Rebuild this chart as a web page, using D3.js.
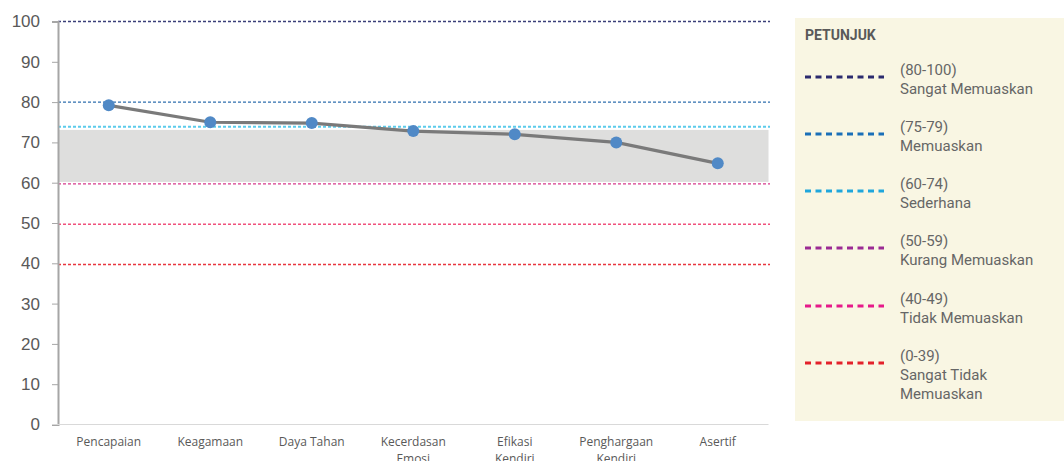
<!DOCTYPE html>
<html>
<head>
<meta charset="utf-8">
<script src="https://cdn.jsdelivr.net/npm/d3@7"></script>
<style>
  body { margin: 0; background: #fff; }
  svg { display: block; }
</style>
</head>
<body>
<div id="chart"></div>
<script>
// data
var categories = ["Pencapaian", "Keagamaan", "Daya Tahan", "Kecerdasan Emosi", "Efikasi Kendiri", "Penghargaan Kendiri", "Asertif"];
var catLines = [["Pencapaian"], ["Keagamaan"], ["Daya Tahan"], ["Kecerdasan", "Emosi"], ["Efikasi", "Kendiri"], ["Penghargaan", "Kendiri"], ["Asertif"]];
var scores = [79.2, 75.0, 74.8, 72.8, 72.0, 70.0, 64.8];
var yTicks = [0, 10, 20, 30, 40, 50, 60, 70, 80, 90, 100];
var bandRange = [60.2, 73.1];
var refValues = [100, 80, 73.9, 59.7, 49.7, 39.7];
var refColors = ["#3a3f78", "#2f6fae", "#5ccbeb", "#d63a8c", "#f0517c", "#e8363f"];
var legendRanges = ["(80-100)", "(75-79)", "(60-74)", "(50-59)", "(40-49)", "(0-39)"];
var legendLabels = [["Sangat Memuaskan"], ["Memuaskan"], ["Sederhana"], ["Kurang Memuaskan"], ["Tidak Memuaskan"], ["Sangat Tidak", "Memuaskan"]];
var legendColors = ["#2b2a6e", "#1a6fb8", "#1fa6dc", "#9b2a93", "#e6198a", "#e3202a"];

var width = 1064, height = 461;
var svg = d3.select("#chart").append("svg")
    .attr("width", width)
    .attr("height", height);

var x = d3.scaleBand().domain(categories).range([58, 768.5]);
var y = d3.scaleLinear().domain([0, 100]).range([424.5, 21.5]);

// grey band
svg.append("rect")
    .attr("x", 59)
    .attr("width", 768.5 - 59)
    .attr("y", y(bandRange[1]))
    .attr("height", y(bandRange[0]) - y(bandRange[1]))
    .attr("fill", "#dededd");

// reference lines
svg.selectAll(".ref")
    .data(refValues)
    .enter().append("line")
    .attr("x1", 58).attr("x2", 770)
    .attr("y1", function (d) { return y(d); })
    .attr("y2", function (d) { return y(d); })
    .attr("stroke", function (d, i) { return refColors[i]; })
    .attr("stroke-width", function (d, i) { return i == 2 ? 2 : 1.4; })
    .attr("stroke-dasharray", "3,2");

// y axis
var yAxis = svg.append("g")
    .attr("transform", "translate(58,0)")
    .call(d3.axisLeft(y).tickValues(yTicks).tickSize(6).tickPadding(12));
yAxis.select(".domain").attr("stroke", "#a6a6a6").attr("stroke-width", 2);
yAxis.selectAll(".tick line").attr("stroke", "#a6a6a6");
yAxis.selectAll("text")
    .attr("fill", "#595959")
    .style("font-family", "'Liberation Sans', sans-serif")
    .style("font-size", "17px");

// x axis
svg.append("line")
    .attr("x1", 52).attr("x2", 768.5)
    .attr("y1", 424.5).attr("y2", 424.5)
    .attr("stroke", "#d9d9d9")
    .attr("stroke-width", 1.2);

var xLabels = svg.append("g").selectAll("text")
    .data(categories)
    .enter().append("text")
    .attr("text-anchor", "middle")
    .attr("fill", "#595959")
    .style("font-family", "'Open Sans', sans-serif")
    .style("font-size", "12px");
xLabels.each(function (d, k) {
    var t = d3.select(this);
    catLines[k].forEach(function (w, i) {
        t.append("tspan")
            .attr("x", x(d) + x.bandwidth() / 2)
            .attr("y", 446 + i * 17)
            .text(w);
    });
});

// line + points
var line = d3.line()
    .x(function (d, i) { return x(categories[i]) + x.bandwidth() / 2; })
    .y(function (d) { return y(d); });

svg.append("path")
    .datum(scores)
    .attr("d", line)
    .attr("fill", "none")
    .attr("stroke", "#7a7a7a")
    .attr("stroke-width", 3.2);

svg.selectAll(".pt")
    .data(scores)
    .enter().append("circle")
    .attr("cx", function (d, i) { return x(categories[i]) + x.bandwidth() / 2; })
    .attr("cy", function (d) { return y(d); })
    .attr("r", 6)
    .attr("fill", "#5089c6");

// legend
var lg = svg.append("g");
lg.append("rect")
    .attr("x", 795).attr("y", 18)
    .attr("width", 269).attr("height", 403)
    .attr("fill", "#f9f6e3");
lg.append("text")
    .attr("x", 805).attr("y", 40)
    .attr("fill", "#595959")
    .style("font-family", "'Roboto', sans-serif")
    .style("font-weight", "bold")
    .style("font-size", "14px")
    .text("PETUNJUK");

var itemY = [77, 134, 191, 248, 306, 363];
legendRanges.forEach(function (r, i) {
    var g = lg.append("g").attr("transform", "translate(0," + itemY[i] + ")");
    g.append("line")
        .attr("x1", 805).attr("x2", 884)
        .attr("stroke", legendColors[i])
        .attr("stroke-width", 3)
        .attr("stroke-dasharray", "6,4.5");
    var t = g.append("text")
        .attr("fill", "#666")
        .style("font-family", "'Roboto', sans-serif")
        .style("font-size", "15px");
    t.append("tspan").attr("x", 900).attr("y", -2).text(r);
    legendLabels[i].forEach(function (l, j) {
        t.append("tspan").attr("x", 900).attr("y", 17 + j * 19).text(l);
    });
});
</script>
</body>
</html>
